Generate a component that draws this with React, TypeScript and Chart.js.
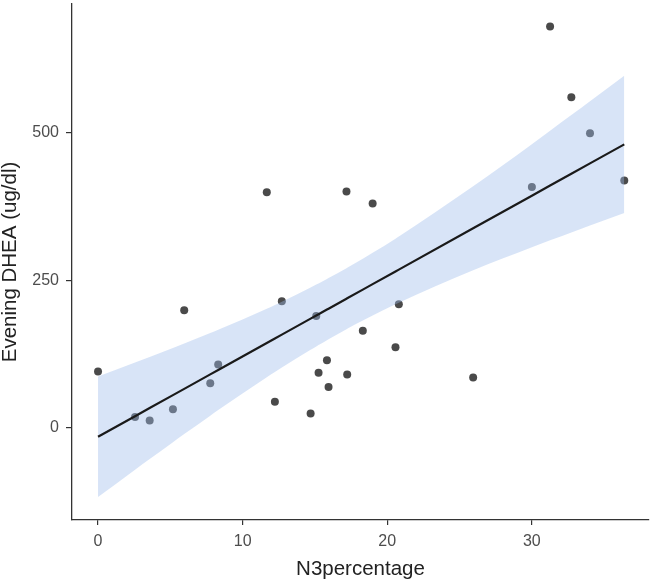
import React, { useEffect, useRef } from "react";
import { Chart, registerables } from "chart.js";

Chart.register(...registerables);

const N3_PERCENTAGE = [0, 2.56, 3.57, 5.18, 5.96, 7.76, 8.31, 11.67, 12.23, 12.71, 14.7, 15.09, 15.25, 15.83, 15.94, 17.18, 17.23, 18.31, 18.99, 20.57, 20.8, 25.94, 30.0, 31.26, 32.73, 34.02, 36.39];
const EVENING_DHEA = [95, 18, 12, 31, 199, 75, 107, 399, 44, 214, 24, 189, 93, 114, 69, 400, 90, 164, 380, 136, 209, 85, 408, 680, 560, 499, 419];
const X_TICKS = [0, 10, 20, 30];
const Y_TICKS = [0, 250, 500];
const X_TITLE = "N3percentage";
const Y_TITLE = "Evening DHEA (ug/dl)";
// Student t quantile (0.975, df = n - 2 = 25) for the 95% confidence band of the linear fit
const T_QUANTILE = 2.0595;

function linearFit(xs: number[], ys: number[]) {
  const n = xs.length;
  const xbar = xs.reduce((a, b) => a + b, 0) / n;
  const ybar = ys.reduce((a, b) => a + b, 0) / n;
  let sxx = 0;
  let sxy = 0;
  for (let i = 0; i < n; i++) {
    sxx += (xs[i] - xbar) ** 2;
    sxy += (xs[i] - xbar) * (ys[i] - ybar);
  }
  const slope = sxy / sxx;
  const intercept = ybar - slope * xbar;
  let sse = 0;
  for (let i = 0; i < n; i++) sse += (ys[i] - (intercept + slope * xs[i])) ** 2;
  const s = Math.sqrt(sse / (n - 2));
  const sortedX = [...xs].sort((a, b) => a - b);
  const fit = sortedX.map((x) => ({ x, y: intercept + slope * x }));
  const hw = (x: number) => T_QUANTILE * s * Math.sqrt(1 / n + (x - xbar) ** 2 / sxx);
  const lower = sortedX.map((x) => ({ x, y: intercept + slope * x - hw(x) }));
  const upper = sortedX.map((x) => ({ x, y: intercept + slope * x + hw(x) }));
  return { fit, lower, upper };
}

const FONT = "'Liberation Sans', Arial, Helvetica, sans-serif";

export default function App() {
  const ref = useRef<HTMLCanvasElement | null>(null);

  useEffect(() => {
    if (!ref.current) return;
    const { fit, lower, upper } = linearFit(N3_PERCENTAGE, EVENING_DHEA);
    const points = N3_PERCENTAGE.map((x, i) => ({ x, y: EVENING_DHEA[i] }));

    const chart = new Chart(ref.current, {
      type: "scatter",
      data: {
        datasets: [
          {
            type: "scatter",
            data: points,
            backgroundColor: "#4a4a4a",
            borderWidth: 0,
            pointRadius: 4,
            order: 3,
          } as any,
          {
            type: "line",
            data: lower,
            borderWidth: 0,
            borderColor: "rgba(0,0,0,0)",
            pointRadius: 0,
            cubicInterpolationMode: "monotone",
            fill: false,
            order: 2,
          } as any,
          {
            type: "line",
            data: upper,
            borderWidth: 0,
            borderColor: "rgba(0,0,0,0)",
            backgroundColor: "rgba(157,187,235,0.4)",
            pointRadius: 0,
            cubicInterpolationMode: "monotone",
            fill: "-1",
            order: 2,
          } as any,
          {
            type: "line",
            data: fit,
            borderColor: "#1a1a1a",
            borderWidth: 2.2,
            pointRadius: 0,
            fill: false,
            order: 1,
          } as any,
        ],
      },
      options: {
        animation: false,
        responsive: true,
        maintainAspectRatio: false,
        layout: { padding: { left: 0, right: 7, top: 3, bottom: 0 } },
        plugins: {
          legend: { display: false },
          tooltip: { enabled: false },
        },
        scales: {
          x: {
            type: "linear",
            min: -1.8,
            max: 38.1,
            afterBuildTicks: (scale: any) => {
              scale.ticks = X_TICKS.map((v) => ({ value: v }));
            },
            afterFit: (scale: any) => {
              scale.height = 61;
              scale.paddingLeft = 0;
              scale.paddingRight = 0;
            },
            grid: {
              display: true,
              drawOnChartArea: false,
              drawTicks: true,
              tickLength: 5,
              color: "#333333",
              lineWidth: 1.2,
            },
            border: { display: true, color: "#333333", width: 1.3 },
            ticks: {
              color: "#4d4d4d",
              font: { family: FONT, size: 16 },
              padding: 7,
              maxRotation: 0,
              callback: (v: any) => String(v),
            },
            title: {
              display: true,
              text: X_TITLE,
              color: "#222222",
              font: { family: FONT, size: 20.5, lineHeight: 1.0 },
              padding: { top: 0, bottom: 1 },
            },
          },
          y: {
            type: "linear",
            min: -156.6,
            max: 718,
            afterBuildTicks: (scale: any) => {
              scale.ticks = Y_TICKS.map((v) => ({ value: v }));
            },
            afterFit: (scale: any) => {
              scale.width = 72;
              scale.paddingTop = 0;
              scale.paddingBottom = 0;
            },
            grid: {
              display: true,
              drawOnChartArea: false,
              drawTicks: true,
              tickLength: 6,
              color: "#333333",
              lineWidth: 1.2,
            },
            border: { display: true, color: "#333333", width: 1.3 },
            ticks: {
              color: "#4d4d4d",
              font: { family: FONT, size: 16 },
              padding: 7,
              callback: (v: any) => String(v),
            },
            title: {
              display: true,
              text: Y_TITLE,
              color: "#222222",
              font: { family: FONT, size: 20.5, lineHeight: 1.0 },
              padding: { top: 0, bottom: 0 },
            },
          },
        },
      } as any,
    });
    return () => chart.destroy();
  }, []);

  return (
    <div style={{ position: "fixed", left: 0, top: 0, width: 656, height: 581, background: "#ffffff" }}>
      <canvas ref={ref} />
    </div>
  );
}
